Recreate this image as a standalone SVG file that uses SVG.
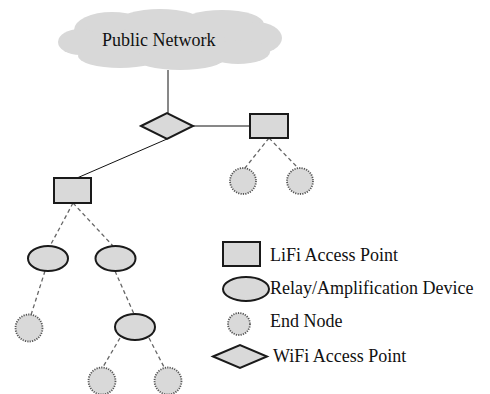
<svg xmlns="http://www.w3.org/2000/svg" width="490" height="394" viewBox="0 0 490 394">
<style>
.sh{fill:#d9d9d9;stroke:#1a1a1a;stroke-width:2}
.en{fill:#d9d9d9;stroke:#555;stroke-width:1.8;stroke-dasharray:1.2,1.2}
.sl{stroke:#111;stroke-width:1;fill:none}
.dl{stroke:#666;stroke-width:1.3;stroke-dasharray:4,3;fill:none}
.cl{fill:#d8d8d8}
.t{font-family:'Liberation Serif','Times New Roman',Times,serif;font-size:18px;fill:#111}
</style>
<rect width="490" height="394" fill="#fff"/>
<g id="cloud">
<g class="cl">
<ellipse cx="170" cy="40" rx="95" ry="25"/>
<ellipse cx="112" cy="30" rx="38" ry="18"/>
<ellipse cx="160" cy="22" rx="42" ry="13"/>
<ellipse cx="222" cy="24" rx="42" ry="14"/>
<ellipse cx="256" cy="38" rx="26" ry="16"/>
<ellipse cx="80" cy="42" rx="22" ry="13"/>
<ellipse cx="120" cy="56" rx="42" ry="12"/>
<ellipse cx="180" cy="58" rx="45" ry="12"/>
<ellipse cx="238" cy="52" rx="32" ry="12"/>
</g>
<text class="t" font-family="Liberation Serif, serif" x="102" y="46">Public Network</text>
</g>
<g id="connectors">
<line class="sl" x1="168" y1="70" x2="168" y2="113"/>
<line class="sl" x1="193" y1="126" x2="250" y2="126"/>
<line class="sl" x1="167" y1="139" x2="77" y2="178"/>
<line class="dl" x1="269" y1="138" x2="245" y2="168"/>
<line class="dl" x1="269" y1="138" x2="298" y2="168"/>
<line class="dl" x1="73" y1="203" x2="50" y2="246"/>
<line class="dl" x1="73" y1="203" x2="113" y2="246"/>
<line class="dl" x1="45" y1="271" x2="31" y2="315"/>
<line class="dl" x1="115" y1="271" x2="134" y2="314"/>
<line class="dl" x1="120" y1="338" x2="103" y2="367"/>
<line class="dl" x1="149" y1="338" x2="164" y2="367"/>
</g>
<g id="wifi"><polygon class="sh" points="141,126 167,113 193,126 167,139"/></g>
<g id="lifi1"><rect class="sh" x="250" y="114" width="38" height="24"/></g>
<g id="lifi2"><rect class="sh" x="54" y="178" width="37" height="25"/></g>
<g id="end1"><circle class="en" cx="243" cy="181" r="13"/></g>
<g id="end2"><circle class="en" cx="300" cy="181" r="13"/></g>
<g id="relay1"><ellipse class="sh" cx="48" cy="258.5" rx="20" ry="12.5"/></g>
<g id="relay2"><ellipse class="sh" cx="115.5" cy="258.5" rx="20" ry="12.5"/></g>
<g id="end3"><circle class="en" cx="29" cy="328" r="13.5"/></g>
<g id="relay3"><ellipse class="sh" cx="135" cy="327" rx="20" ry="13"/></g>
<g id="end4"><circle class="en" cx="102" cy="381" r="13.5"/></g>
<g id="end5"><circle class="en" cx="168" cy="381" r="13.5"/></g>
<g id="legend">
<rect class="sh" x="223" y="242" width="37" height="24"/>
<text class="t" x="270" y="261">LiFi Access Point</text>
<ellipse class="sh" cx="246" cy="289" rx="23" ry="12"/>
<text class="t" x="270" y="294">Relay/Amplification Device</text>
<circle class="en" cx="239" cy="324" r="11"/>
<text class="t" x="270" y="327">End Node</text>
<polygon class="sh" points="213,356.5 240,345 267,356.5 240,368"/>
<text class="t" x="273" y="362">WiFi Access Point</text>
</g>
</svg>
